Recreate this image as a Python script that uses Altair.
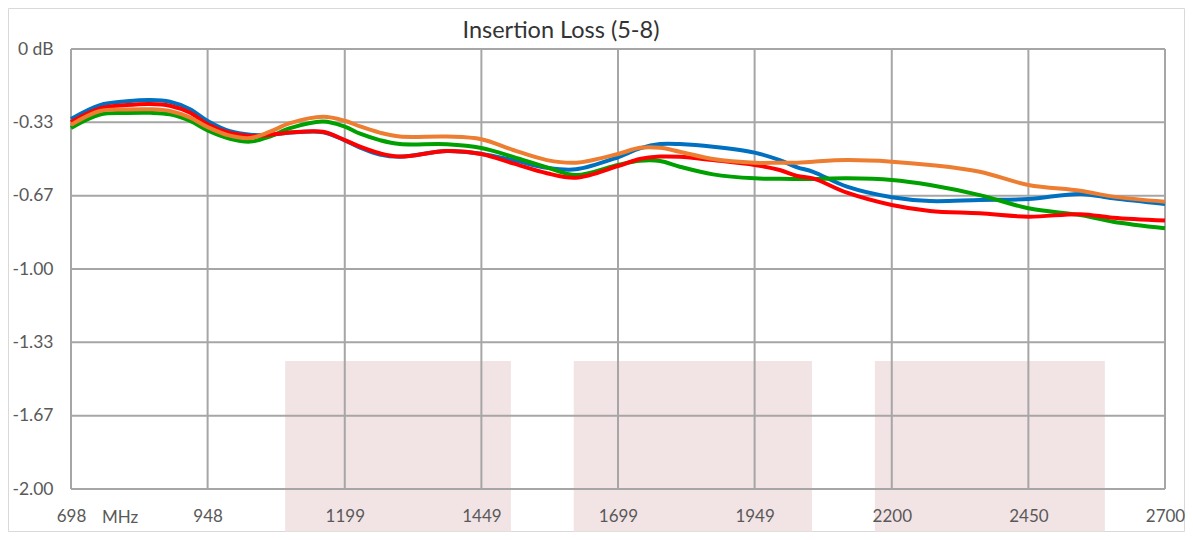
import altair as alt
import pandas as pd

# ---- data ----
freq = [698, 751, 800, 843, 879, 916, 948, 989, 1026, 1062, 1099, 1159, 1199, 1227, 1263,
        1300, 1386, 1449, 1507, 1569, 1622, 1699, 1739, 1776, 1812, 1873, 1949, 1995,
        2027, 2056, 2118, 2200, 2270, 2361, 2450, 2545, 2605, 2700]
blue = [-0.318, -0.255, -0.238, -0.232, -0.240, -0.274, -0.327, -0.374, -0.390, -0.390, -0.380,
        -0.378, -0.415, -0.448, -0.480, -0.490, -0.464, -0.477, -0.505, -0.540, -0.547,
        -0.492, -0.452, -0.432, -0.432, -0.444, -0.471, -0.505, -0.538, -0.558, -0.626,
        -0.674, -0.691, -0.686, -0.682, -0.659, -0.679, -0.705]
red = [-0.332, -0.270, -0.255, -0.250, -0.258, -0.290, -0.342, -0.382, -0.395, -0.390, -0.380,
       -0.376, -0.414, -0.444, -0.474, -0.489, -0.464, -0.477, -0.520, -0.565, -0.585,
       -0.532, -0.500, -0.489, -0.490, -0.505, -0.527, -0.550, -0.577, -0.588, -0.653,
       -0.709, -0.736, -0.747, -0.762, -0.751, -0.767, -0.780]
orange = [-0.345, -0.282, -0.275, -0.274, -0.282, -0.312, -0.355, -0.394, -0.405, -0.376, -0.337,
          -0.308, -0.326, -0.352, -0.380, -0.398, -0.398, -0.410, -0.459, -0.505, -0.517,
          -0.477, -0.449, -0.449, -0.467, -0.500, -0.517, -0.517, -0.517, -0.512, -0.505,
          -0.512, -0.527, -0.558, -0.618, -0.644, -0.671, -0.694]
green = [-0.359, -0.298, -0.291, -0.290, -0.297, -0.327, -0.370, -0.408, -0.421, -0.398, -0.360,
         -0.330, -0.353, -0.385, -0.414, -0.432, -0.433, -0.450, -0.490, -0.538, -0.573,
         -0.527, -0.508, -0.509, -0.535, -0.570, -0.588, -0.590, -0.591, -0.591, -0.588,
         -0.595, -0.618, -0.664, -0.724, -0.755, -0.785, -0.815]

series_names = ["S1", "S2", "S3", "S4"]
series_colors = ["#0070C0", "#00A000", "#FF0000", "#ED7D31"]

x_ticks = [698, 948, 1199, 1449, 1699, 1949, 2200, 2450, 2700]
y_ticks = [0, -1 / 3, -2 / 3, -1, -4 / 3, -5 / 3, -2]

band_start = [1090, 1618, 2169]
band_end = [1503, 2054, 2590]
band_top = [-1.418, -1.418, -1.418]

title_text = "Insertion Loss (5-8)"
unit_text = "MHz"

W, H = 1094, 440
PAD_L, PAD_T, PAD_R, PAD_B = 63, 41, 20, 43
FONT = "Lato"
LBL = 17

rows = []
for name, vals in zip(series_names, [blue, green, red, orange]):
    for f, v in zip(freq, vals):
        rows.append({"f": f, "v": v, "s": name})
df = pd.DataFrame(rows)

xs = alt.Scale(domain=[698, 2700], nice=False, zero=False)
ys = alt.Scale(domain=[-2, 0], nice=False, zero=False)

X_AX = alt.Axis(values=x_ticks, format="d", grid=False, domain=False, ticks=False,
                labelFont=FONT, labelFontSize=LBL, labelColor="#595959",
                labelPadding=19, labelFlush=False, labelOverlap=False,
                zindex=1, title=None)
Y_AX = alt.Axis(values=y_ticks, grid=False, domain=False, ticks=False,
                labelExpr="datum.value == 0 ? '0 dB' : '-' + format(abs(datum.value), '.2f')",
                labelFont=FONT, labelFontSize=17.5, labelColor="#595959",
                labelPadding=18, labelFlush=False, labelOverlap=False,
                zindex=1, title=None)

one = pd.DataFrame({"a": [0]})

frame = alt.Chart(one).mark_rect(
    fill=None, stroke="#d9d9d9", strokeWidth=1
).encode(
    x=alt.value(-PAD_L + 0.5), x2=alt.value(W + PAD_R - 0.5),
    y=alt.value(-PAD_T + 0.5), y2=alt.value(H + PAD_B - 0.5)
)

bands = alt.Chart(pd.DataFrame({"a": band_start, "b": band_end, "t": band_top})).mark_rect(
    color="#f2e4e5"
).encode(
    x=alt.X("a:Q", scale=xs, axis=X_AX),
    x2="b:Q",
    y=alt.Y("t:Q", scale=ys, axis=Y_AX),
    y2=alt.value(H + PAD_B - 0.5),
)

vgrid = alt.Chart(pd.DataFrame({"f": x_ticks})).mark_rule(
    color="#a6a6a6", strokeWidth=2
).encode(x=alt.X("f:Q", scale=xs, axis=X_AX), y=alt.value(0), y2=alt.value(H))

hgrid = alt.Chart(pd.DataFrame({"v": y_ticks})).mark_rule(
    color="#a6a6a6", strokeWidth=2
).encode(y=alt.Y("v:Q", scale=ys, axis=Y_AX), x=alt.value(0), x2=alt.value(W))

lines = []
for name, col in zip(series_names, series_colors):
    lines.append(
        alt.Chart(df[df.s == name]).mark_line(
            color=col, strokeWidth=4, interpolate="catmull-rom"
        ).encode(
            x=alt.X("f:Q", scale=xs, axis=X_AX),
            y=alt.Y("v:Q", scale=ys, axis=Y_AX),
        )
    )

mhz = alt.Chart(pd.DataFrame({"f": [698], "t": [unit_text]})).mark_text(
    font=FONT, fontSize=LBL, color="#595959", dx=49, baseline="middle"
).encode(x=alt.X("f:Q", scale=xs, axis=X_AX), y=alt.value(H + 29), text="t:N")

title = alt.Chart(pd.DataFrame({"t": [title_text]})).mark_text(
    font=FONT, fontSize=23.5, color="#333333", baseline="middle", align="center"
).encode(x=alt.value(W / 2 - 57), y=alt.value(-18), text="t:N")

chart = alt.layer(frame, bands, vgrid, hgrid, *lines, mhz, title).properties(
    width=W,
    height=H,
    autosize=alt.AutoSizeParams(type="none"),
    padding={"left": PAD_L, "top": PAD_T, "right": PAD_R, "bottom": PAD_B},
).configure_view(stroke=None)

chart.save("out.html", embed_options={"renderer": "svg", "actions": False})
